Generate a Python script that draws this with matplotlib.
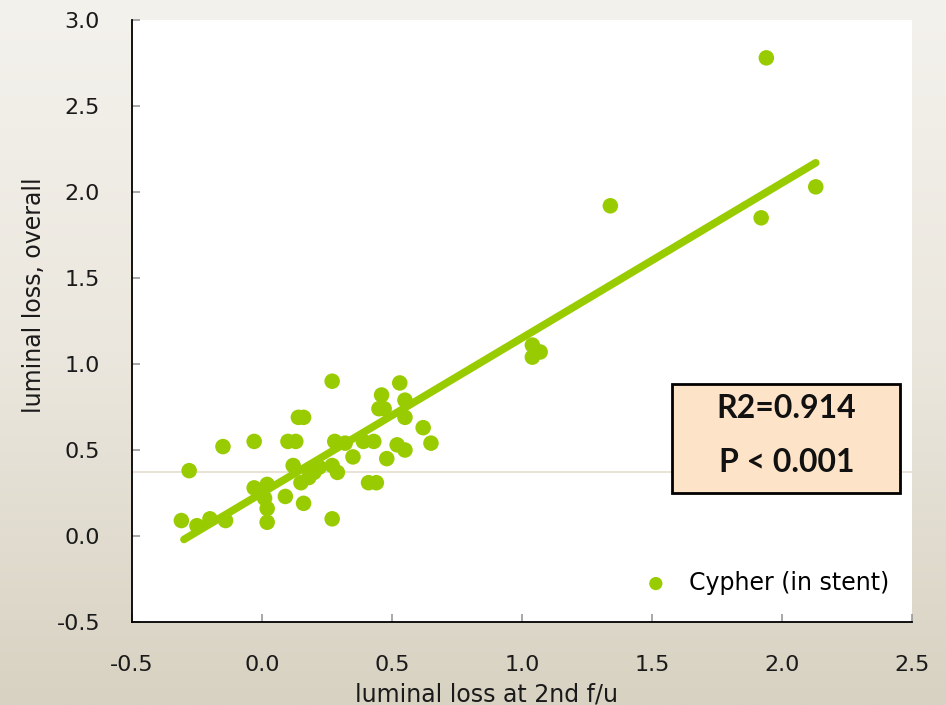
import numpy as np
import matplotlib
matplotlib.use("Agg")
import matplotlib.pyplot as plt
from matplotlib.patches import Rectangle

# luminal loss at 2nd follow-up (x) vs overall luminal loss (y)
loss_2nd_fu = [-0.31, -0.28, -0.25, -0.20, -0.14, -0.15, -0.03, -0.03, 0.02, 0.02,
               0.02, 0.01, 0.09, 0.10, 0.13, 0.14, 0.16, 0.12, 0.15, 0.16,
               0.18, 0.20, 0.22, 0.27, 0.27, 0.28, 0.32, 0.35, 0.27, 0.29,
               0.39, 0.43, 0.41, 0.44, 0.48, 0.46, 0.45, 0.47, 0.53, 0.55,
               0.55, 0.52, 0.55, 0.62, 0.65, 1.04, 1.07, 1.04, 1.34, 1.94,
               1.92, 2.13]
loss_overall = [0.09, 0.38, 0.06, 0.10, 0.09, 0.52, 0.55, 0.28, 0.30, 0.16,
                0.08, 0.22, 0.23, 0.55, 0.55, 0.69, 0.69, 0.41, 0.31, 0.19,
                0.34, 0.37, 0.40, 0.90, 0.10, 0.55, 0.54, 0.46, 0.41, 0.37,
                0.55, 0.55, 0.31, 0.31, 0.45, 0.82, 0.74, 0.74, 0.89, 0.79,
                0.69, 0.53, 0.50, 0.63, 0.54, 1.11, 1.07, 1.04, 1.92, 2.78,
                1.85, 2.03]

# regression line ends
fit_x = [-0.30, 2.13]
fit_y = [-0.02, 2.17]

ref_level = 0.372
stats_text = ["R2=0.914", "P < 0.001"]

green = "#99cc00"

fig = plt.figure(figsize=(9.46, 7.05), dpi=100)

# slide-like beige gradient background
bg = fig.add_axes([0, 0, 1, 1], zorder=-10)
grad = np.linspace(0, 1, 256).reshape(-1, 1)
cmap = matplotlib.colors.LinearSegmentedColormap.from_list("bg", ["#f4f2ed", "#ebe7de", "#d8d2c2"])
bg.imshow(grad, aspect="auto", cmap=cmap, extent=[0, 1, 0, 1])
bg.set_axis_off()

ax = fig.add_axes([0.1395, 0.1177, 0.8245, 0.8539])
ax.set_facecolor("white")

ax.axhline(ref_level, color="#e4dece", lw=1.2, zorder=1)
ax.plot(fit_x, fit_y, color=green, lw=5.5, solid_capstyle="round", zorder=2)
ax.scatter(loss_2nd_fu, loss_overall, s=125, color=green, edgecolors="none",
           zorder=3, label="Cypher (in stent)")

ax.set_xlim(-0.5, 2.5)
ax.set_ylim(-0.5, 3.0)
ax.set_xticks(np.arange(-0.5, 2.51, 0.5))
ax.set_yticks(np.arange(-0.5, 3.01, 0.5))
ax.set_xticklabels([f"{v:.1f}" for v in np.arange(-0.5, 2.51, 0.5)])
ax.set_yticklabels([f"{v:.1f}" for v in np.arange(-0.5, 3.01, 0.5)])
ax.tick_params(direction="in", length=6, width=1.2, color="#999999",
               labelsize=16, labelcolor="#1a1a1a")
ax.tick_params(axis="x", pad=24)
ax.tick_params(axis="y", pad=23)

for side in ["top", "right"]:
    ax.spines[side].set_visible(False)
for side in ["left", "bottom"]:
    ax.spines[side].set_color("black")
    ax.spines[side].set_linewidth(1.3)

ax.set_xlabel("luminal loss at 2nd f/u", fontsize=17, color="#1a1a1a")
ax.set_ylabel("luminal loss, overall", fontsize=17, color="#1a1a1a")
ax.xaxis.set_label_coords(0.455, -0.1)
ax.yaxis.set_label_coords(-0.11, 0.543)

leg = ax.legend(loc="lower right", frameon=False, fontsize=17,
                handletextpad=0.4, bbox_to_anchor=(0.998, 0.01), markerscale=0.85)

# stats box
ax.add_patch(Rectangle((0.692, 0.214), 0.293, 0.181, transform=ax.transAxes,
                       facecolor="#fde3c8", edgecolor="black", lw=2, zorder=5))
ax.text(0.839, 0.355, stats_text[0], transform=ax.transAxes, ha="center", va="center",
        fontsize=23, fontweight="bold", family="Lato", color="#111111", zorder=6)
ax.text(0.839, 0.265, stats_text[1], transform=ax.transAxes, ha="center", va="center",
        fontsize=23, fontweight="bold", family="Lato", color="#111111", zorder=6)

fig.savefig("out.png", dpi=100)
